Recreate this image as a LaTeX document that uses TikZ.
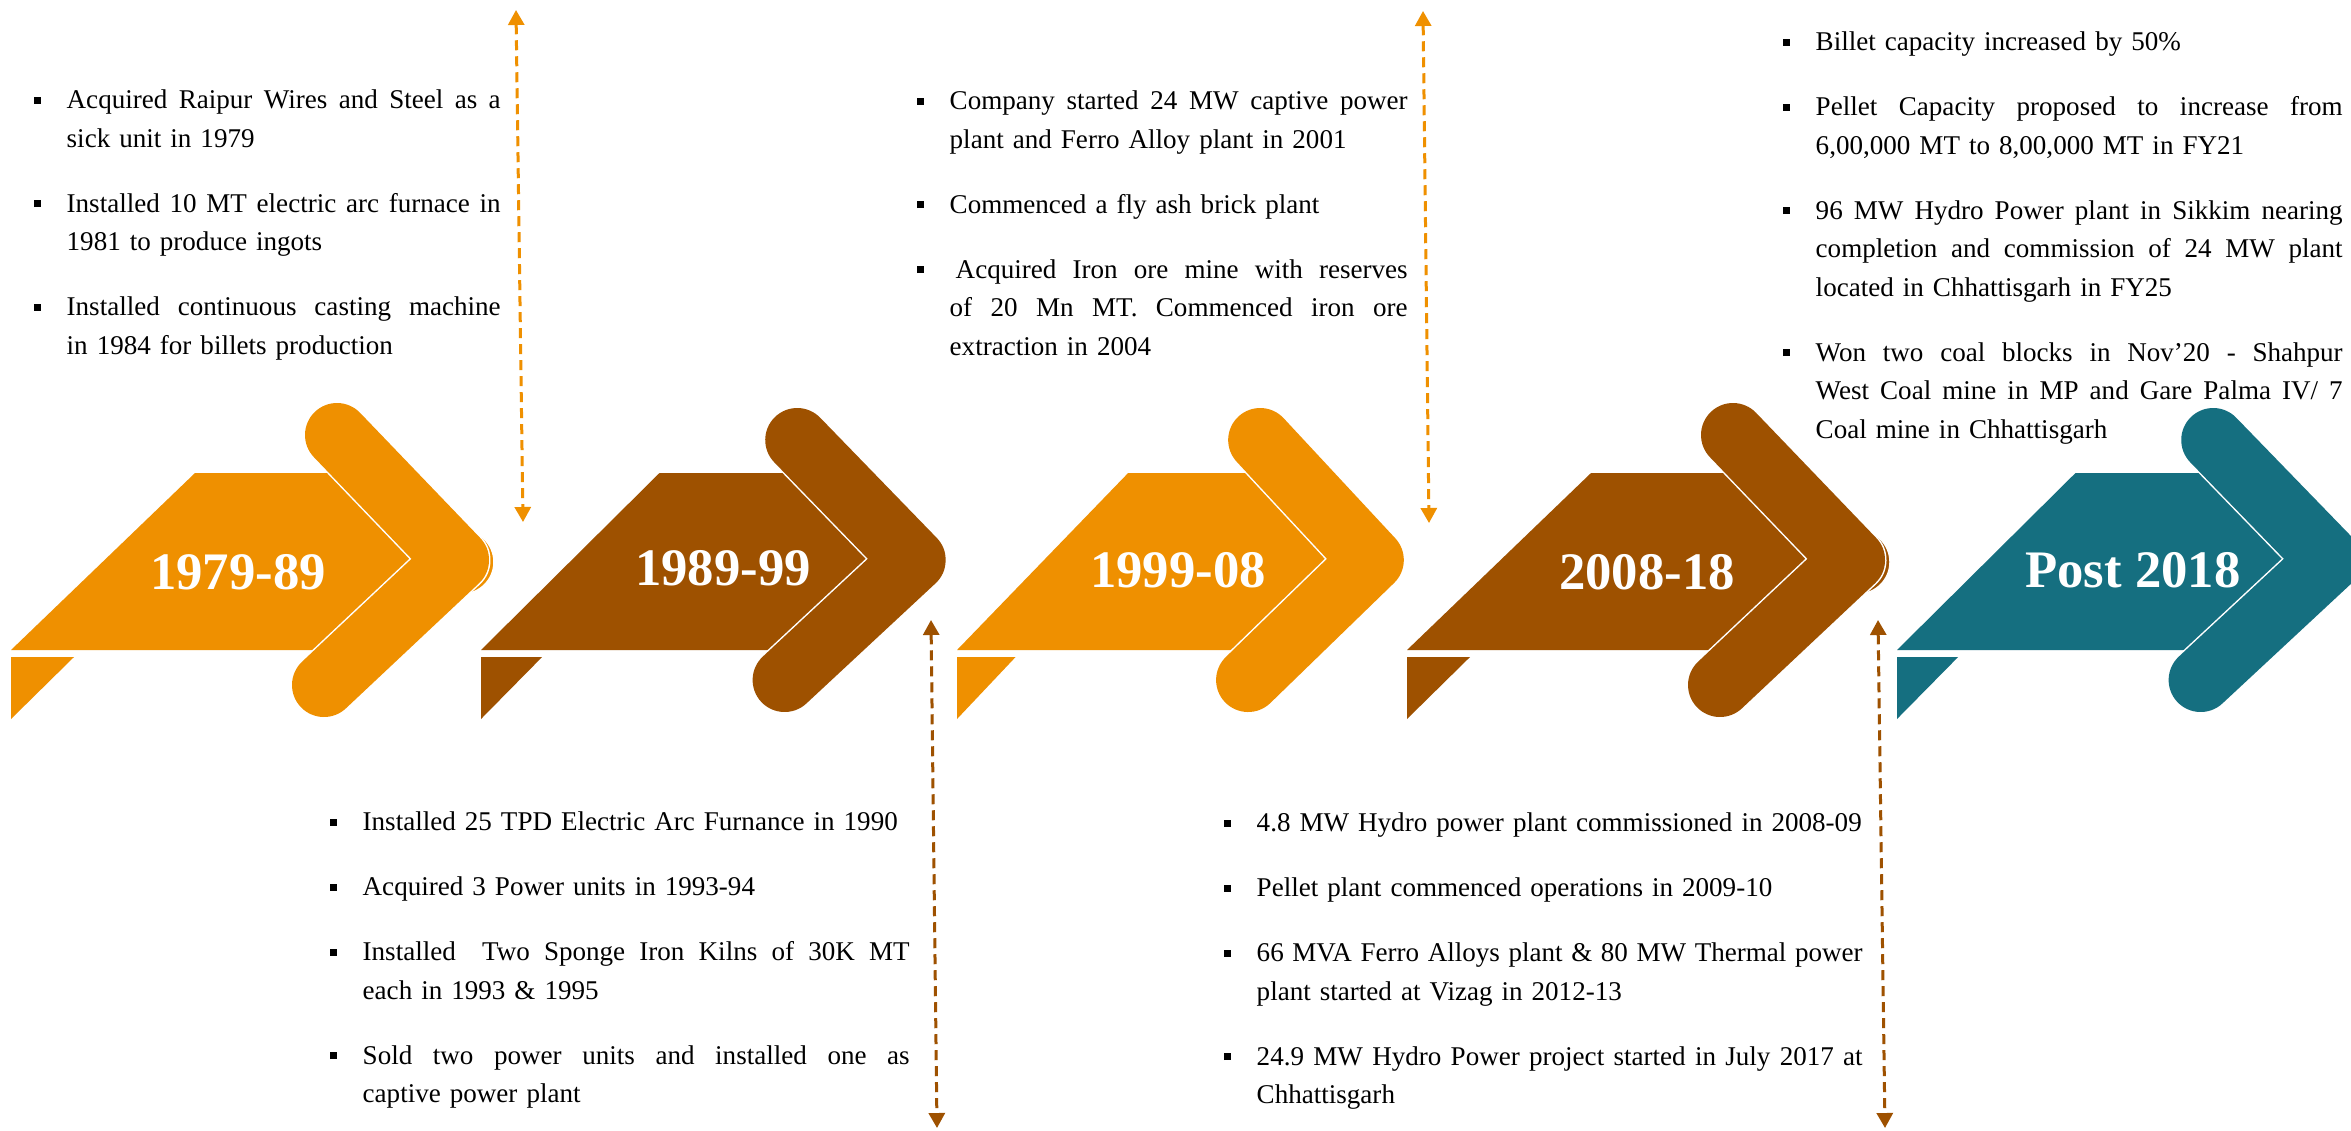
\documentclass[tikz,border=0pt]{standalone}
\usepackage{fontspec}
\setmainfont{Liberation Serif}
\usetikzlibrary{arrows.meta}

\definecolor{tlorange}{RGB}{239,144,0}
\definecolor{tlbrown}{RGB}{158,81,0}
\definecolor{tlteal}{RGB}{21,111,128}

\newcommand{\bul}{\makebox[3.3mm][l]{\rule[0.5mm]{0.7mm}{0.7mm}}}
\newcommand{\ind}{\hspace*{3.3mm}}
\newcommand{\jl}[1]{\makebox[\dimexpr\hsize-3.3mm\relax][s]{\spaceskip=0pt\xspaceskip=0pt\relax#1}}
\newcommand{\fs}{\rule{0pt}{2mm}}

\newcommand{\yeararrow}[5]{%
  \begin{scope}[shift={(#1,0)},xscale=#2]
    \fill[#4] (0,650) -- (184,473) -- (340,473) -- (425,561) -- (330,650) -- cycle;
    \fill[#4] (0,657) -- (63,657) -- (0,719) -- cycle;
    \filldraw[fill=#4,draw=white,line width=0.15mm] ({446+#5},{560+0.4*#5}) circle[radius=3.2mm];
    \draw[chevedge] (326,{560-125*#3}) -- (446,560) -- (313,{560+125*#3});
    \draw[chevron,#4] (326,{560-125*#3}) -- (446,560) -- (313,{560+125*#3});
  \end{scope}}

\tikzset{
  chevedge/.style={white,line width=6.7mm,line cap=round,line join=round},
  chevron/.style={line width=6.4mm,line cap=round,line join=round},
  dashlink/.style={line width=0.3mm,dash pattern=on 1mm off 0.6mm,
    {Triangle[width=1.6mm,length=1.5mm]}-{Triangle[width=1.6mm,length=1.5mm]}},
  yearlabel/.style={text=white,font=\fontsize{15pt}{18pt}\selectfont\bfseries,inner sep=0pt},
  notes/.style={anchor=north west,inner sep=0pt,align=left,
    font=\fontsize{7.7pt}{10.95pt}\selectfont}
}

\begin{document}
\begin{tikzpicture}[x=0.1mm,y=-0.1mm]
      \fill[white] (0,0) rectangle (2351,1130);
      \useasboundingbox (0,0) rectangle (2351,1130);

      \yeararrow{11}{1}{1}{tlorange}{5}
      \yeararrow{481}{0.97}{0.96}{tlbrown}{0}
      \yeararrow{957}{0.93}{0.96}{tlorange}{0}
      \yeararrow{1407}{1}{1}{tlbrown}{5}
      \yeararrow{1897}{0.97}{0.96}{tlteal}{0}

      \node(y7989) [yearlabel] at (238,572) {1979-89};
      \node(y8999) [yearlabel] at (723,568) {1989-99};
      \node(y9908) [yearlabel] at (1178,570) {1999-08};
      \node(y0818) [yearlabel] at (1647,572) {2008-18};
      \node(y2018) [yearlabel] at (2133,570) {Post 2018};

      \node(n7989) [notes,text width=46.7mm] at (33,88) {%
        \fs\bul\jl{Acquired Raipur Wires and Steel as a}\\
        \ind\mbox{sick unit in 1979}\\[2.65mm]
        \bul\jl{Installed 10 MT electric arc furnace in}\\
        \ind\mbox{1981 to produce ingots}\\[2.65mm]
        \bul\jl{Installed continuous casting machine}\\
        \ind\mbox{in 1984 for billets production}};
      \node(n9908) [notes,text width=49.1mm] at (916,89) {%
        \fs\bul\jl{Company started 24 MW captive power}\\
        \ind\mbox{plant and Ferro Alloy plant in 2001}\\[2.65mm]
        \bul\mbox{Commenced a fly ash brick plant}\\[2.65mm]
        \bul\jl{\hspace*{0.6mm}Acquired Iron ore mine with reserves}\\
        \ind\jl{of 20 Mn MT. Commenced iron ore}\\
        \ind\mbox{extraction in 2004}};
      \node(n2018) [notes,text width=56mm] at (1782,30) {%
        \fs\bul\mbox{Billet capacity increased by 50\%}\\[2.65mm]
        \bul\jl{Pellet Capacity proposed to increase from}\\
        \ind\mbox{6,00,000 MT to 8,00,000 MT in FY21}\\[2.65mm]
        \bul\jl{96 MW Hydro Power plant in Sikkim nearing}\\
        \ind\jl{completion and commission of 24 MW plant}\\
        \ind\mbox{located in Chhattisgarh in FY25}\\[2.65mm]
        \bul\jl{Won two coal blocks in Nov’20 - Shahpur}\\
        \ind\jl{West Coal mine in MP and Gare Palma IV/ 7}\\
        \ind\mbox{Coal mine in Chhattisgarh}};
      \node(n8999) [notes,text width=58mm] at (329,810) {%
        \fs\bul\mbox{Installed 25 TPD Electric Arc Furnance in 1990}\\[2.65mm]
        \bul\mbox{Acquired 3 Power units in 1993-94}\\[2.65mm]
        \bul\jl{Installed\hspace{1.2mm} Two Sponge Iron Kilns of 30K MT}\\
        \ind\mbox{each in 1993 \& 1995}\\[2.65mm]
        \bul\jl{Sold two power units and installed one as}\\
        \ind\mbox{captive power plant}};
      \node(n0818) [notes,text width=63.9mm] at (1223,811) {%
        \fs\bul\mbox{4.8 MW Hydro power plant commissioned in 2008-09}\\[2.65mm]
        \bul\mbox{Pellet plant commenced operations in 2009-10}\\[2.65mm]
        \bul\jl{66 MVA Ferro Alloys plant \& 80 MW Thermal power}\\
        \ind\mbox{plant started at Vizag in 2012-13}\\[2.65mm]
        \bul\jl{24.9 MW Hydro Power project started in July 2017 at}\\
        \ind\mbox{Chhattisgarh}};

      \coordinate(d1top) at (516,10);
      \coordinate(d1bot) at (523,522);
      \coordinate(d2top) at (931,620);
      \coordinate(d2bot) at (937,1128);
      \coordinate(d3top) at (1423,11);
      \coordinate(d3bot) at (1429,523);
      \coordinate(d4top) at (1878,620);
      \coordinate(d4bot) at (1885,1128);

      \draw[dashlink,tlorange] (d1top) -- (d1bot);
      \draw[dashlink,tlbrown] (d2top) -- (d2bot);
      \draw[dashlink,tlorange] (d3top) -- (d3bot);
      \draw[dashlink,tlbrown] (d4top) -- (d4bot);
    \end{tikzpicture}
\end{document}
